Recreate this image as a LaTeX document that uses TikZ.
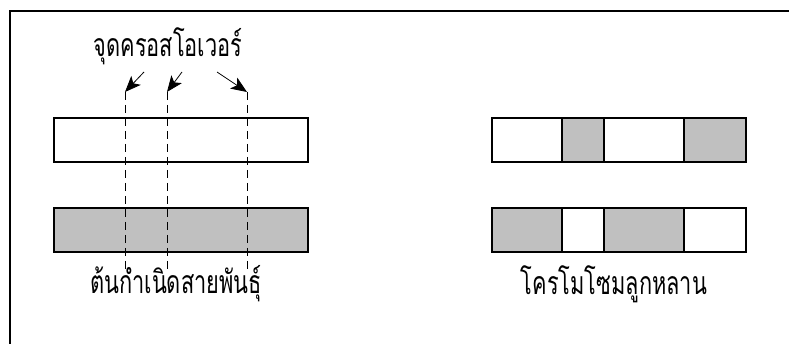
\documentclass[tikz,border=0pt]{standalone}
\usepackage{fontspec}
\newfontfamily\thaifont[Script=Thai]{Loma}
\usetikzlibrary{arrows.meta,positioning}
\definecolor{geneGray}{HTML}{C0C0C0}
\newcommand{\thaitext}[1]{\scalebox{0.68}[1]{#1}}

\begin{document}
\begin{tikzpicture}[x=1pt, y=-1pt,
    seg/.style={draw, line width=1.2pt, minimum height=44pt, inner sep=0pt, outer sep=0pt},
    gen/.style={seg, fill=white},
    mut/.style={seg, fill=geneGray},
    cut/.style={line width=0.8pt, dash pattern=on 8pt off 5pt},
    pick/.style={-{Stealth[length=16pt,width=13pt,inset=4pt]}, line width=0.8pt},
    lbl/.style={font=\thaifont\fontsize{32}{36}\selectfont, inner sep=0pt}
    ]

    \useasboundingbox (0,0) rectangle (789,344);
    \draw[line width=1.5pt] (10,344) -- (10,11) -- (789,11);

    % parent chromosomes
    \node[gen, minimum width=254pt] (P1) at (181,140) {};
    \node[mut, minimum width=254pt] (P2) at (181,230) {};

    % offspring chromosomes
    \node[gen, minimum width=70pt, anchor=west] (C1a) at (492,140) {};
    \node[mut, minimum width=42pt, right=0pt of C1a] (C1b) {};
    \node[gen, minimum width=80pt, right=0pt of C1b] (C1c) {};
    \node[mut, minimum width=62pt, right=0pt of C1c] (C1d) {};
    \node[mut, minimum width=70pt, anchor=west] (C2a) at (492,230) {};
    \node[gen, minimum width=42pt, right=0pt of C2a] (C2b) {};
    \node[mut, minimum width=80pt, right=0pt of C2b] (C2c) {};
    \node[gen, minimum width=62pt, right=0pt of C2c] (C2d) {};

    % crossover points
    \coordinate (X1t) at (125,92);  \coordinate (X1b) at (125,273);
    \coordinate (X2t) at (167,92);  \coordinate (X2b) at (167,270);
    \coordinate (X3t) at (247,92);  \coordinate (X3b) at (247,273);
    \draw[cut] (X1t) -- (X1b);
    \draw[cut] (X2t) -- (X2b);
    \draw[cut] (X3t) -- (X3b);

    \node[lbl] (xo) at (168,46) {\thaitext{จุดครอสโอเวอร์}};
    \coordinate (A1) at (144,72);
    \coordinate (A2) at (182,72);
    \coordinate (A3) at (217,72);
    \draw[pick] (A1) -- (X1t);
    \draw[pick] (A2) -- (X2t);
    \draw[pick] (A3) -- (X3t);

    \begin{scope}
        \clip (80,255) rectangle (279,315);
        \node[lbl, anchor=west] (parent) at (90,284) {\thaitext{ต้นกำเนิดสายพันธุ์}};
    \end{scope}
    \node[lbl] (child) at (614,284) {\thaitext{โครโมโซมลูกหลาน}};

\end{tikzpicture}
\end{document}
